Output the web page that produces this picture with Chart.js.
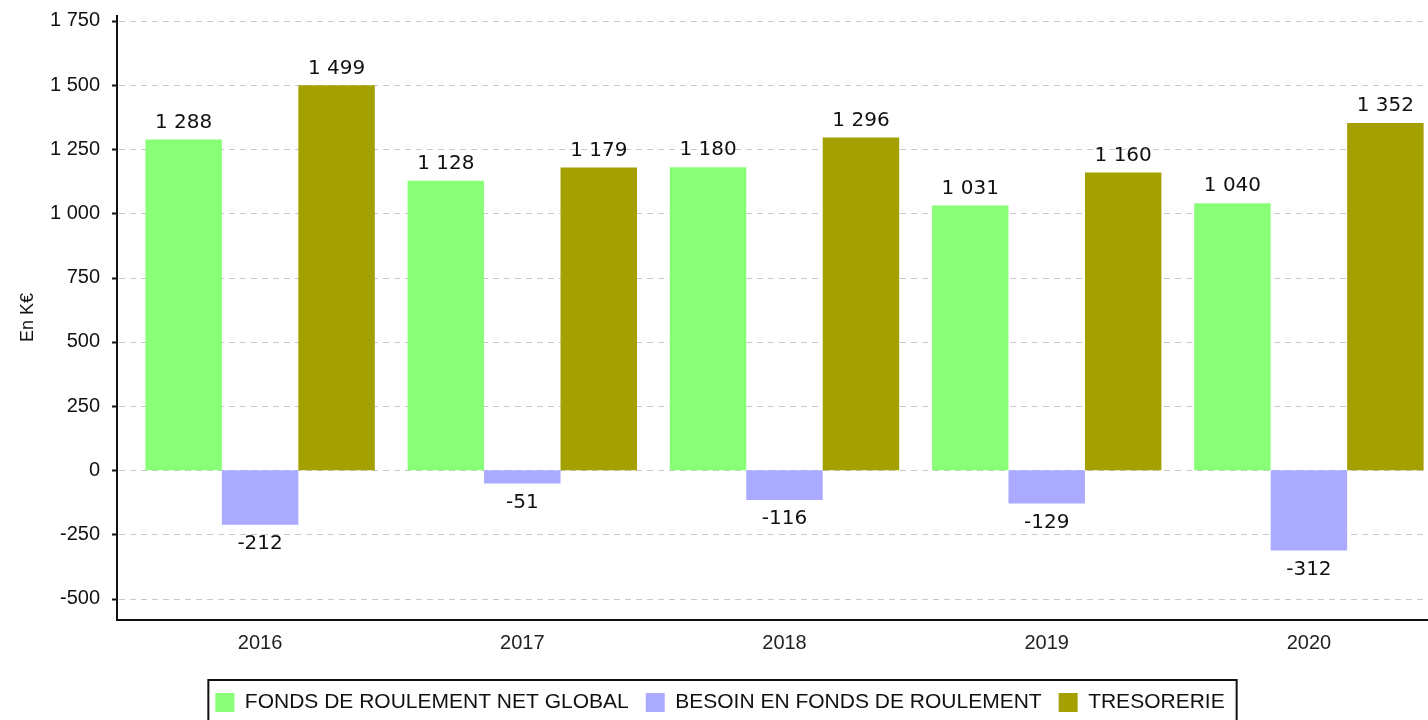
<!DOCTYPE html>
<html>
<head>
<meta charset="utf-8">
<script src="https://cdn.jsdelivr.net/npm/chart.js@4.4.1/dist/chart.umd.min.js"></script>
<style>
  html, body { margin: 0; padding: 0; background: #fff; overflow: hidden; }
  #wrap { width: 1440px; height: 749px; margin-top: -26px; }
</style>
</head>
<body>
<div id="wrap"><canvas id="chart"></canvas></div>
<script>
const years = ["2016", "2017", "2018", "2019", "2020"];
const frng = [1288, 1128, 1180, 1031, 1040];
const bfr = [-212, -51, -116, -129, -312];
const tresorerie = [1499, 1179, 1296, 1160, 1352];
const seriesNames = ["FONDS DE ROULEMENT NET GLOBAL", "BESOIN EN FONDS DE ROULEMENT", "TRESORERIE"];
const yMin = -583;
const yMax = 1773;
const yStep = 250;

function fmt(v) {
  const s = String(Math.abs(Math.round(v))).replace(/\B(?=(\d{3})+(?!\d))/g, " ");
  return (v < 0 ? "-" : "") + s;
}

const AXIS_GAP = 12;

// axes, dashed grid and tick marks drawn by hand so the y axis line sits left of the plot
const axesPlugin = {
  id: "axesPlugin",
  beforeDatasetsDraw(chart) {
    const { ctx, chartArea, scales } = chart;
    const x0 = chartArea.left - AXIS_GAP;
    ctx.save();
    ctx.strokeStyle = "#c8c8c8";
    ctx.lineWidth = 1;
    ctx.setLineDash([6, 5]);
    scales.y.ticks.forEach(t => {
      const y = Math.round(scales.y.getPixelForValue(t.value)) + 0.5;
      ctx.beginPath();
      ctx.moveTo(x0 + 2, y);
      ctx.lineTo(chartArea.right, y);
      ctx.stroke();
    });
    ctx.restore();
  },
  afterDraw(chart) {
    const { ctx, chartArea, scales } = chart;
    const x0 = chartArea.left - AXIS_GAP;
    ctx.save();
    ctx.strokeStyle = "#111";
    ctx.lineWidth = 2;
    ctx.beginPath();
    ctx.moveTo(x0, chartArea.top);
    ctx.lineTo(x0, chartArea.bottom);
    ctx.lineTo(chartArea.right, chartArea.bottom);
    ctx.stroke();
    scales.y.ticks.forEach(t => {
      const y = Math.round(scales.y.getPixelForValue(t.value)) + 0.5;
      ctx.beginPath();
      ctx.moveTo(x0 - 5, y);
      ctx.lineTo(x0, y);
      ctx.stroke();
    });
    // legend frame
    const lg = chart.legend;
    if (lg && lg.legendHitBoxes.length) {
      const boxes = lg.legendHitBoxes;
      const left = Math.min(...boxes.map(b => b.left)) - 7;
      const right = Math.max(...boxes.map(b => b.left + b.width)) + 12;
      const top = boxes[0].top - 12;
      ctx.lineWidth = 2;
      ctx.strokeRect(left, top, right - left, 60);
    }
    ctx.restore();
  }
};

const valueLabels = {
  id: "valueLabels",
  afterDatasetsDraw(chart) {
    const { ctx } = chart;
    ctx.save();
    ctx.font = "20px 'DejaVu Sans'";
    ctx.fillStyle = "#111";
    ctx.textAlign = "center";
    chart.data.datasets.forEach((ds, i) => {
      chart.getDatasetMeta(i).data.forEach((bar, j) => {
        const v = ds.data[j];
        if (v >= 0) {
          ctx.textBaseline = "bottom";
          ctx.fillText(fmt(v), bar.x, bar.y - 7);
        } else {
          ctx.textBaseline = "top";
          ctx.fillText(fmt(v), bar.x, bar.y + 9);
        }
      });
    });
    ctx.restore();
  }
};

new Chart(document.getElementById("chart"), {
  type: "bar",
  data: {
    labels: years,
    datasets: [
      { label: seriesNames[0], data: frng, backgroundColor: "#88ff77" },
      { label: seriesNames[1], data: bfr, backgroundColor: "#aaaaff" },
      { label: seriesNames[2], data: tresorerie, backgroundColor: "#a3a000" }
    ]
  },
  options: {
    responsive: true,
    maintainAspectRatio: false,
    animation: false,
    layout: { padding: { top: 0, right: 0, left: 0, bottom: 0 } },
    datasets: { bar: { categoryPercentage: 0.875, barPercentage: 1.0 } },
    plugins: {
      legend: {
        position: "bottom",
        labels: {
          font: { family: "'Liberation Sans', Arial", size: 21 },
          color: "#111",
          boxWidth: 19,
          boxHeight: 19,
          padding: 17
        }
      },
      tooltip: { enabled: false }
    },
    scales: {
      x: {
        grid: { display: false, drawTicks: false },
        border: { display: false },
        ticks: {
          font: { family: "'Liberation Sans', Arial", size: 20 },
          color: "#222",
          padding: 11
        },
        afterFit(scale) { scale.height = 55; }
      },
      y: {
        min: yMin,
        max: yMax,
        grid: { display: false, drawTicks: false },
        border: { display: false },
        afterFit(scale) { scale.width = 129; },
        ticks: {
          stepSize: yStep,
          includeBounds: false,
          padding: 29,
          font: { family: "'Liberation Sans', Arial", size: 20 },
          color: "#111",
          callback: v => fmt(v)
        },
        title: {
          display: true,
          text: "En K€",
          font: { family: "'Liberation Sans', Arial", size: 18 },
          color: "#111",
          padding: { top: 17, bottom: 0 }
        }
      }
    }
  },
  plugins: [axesPlugin, valueLabels]
});
</script>
</body>
</html>
